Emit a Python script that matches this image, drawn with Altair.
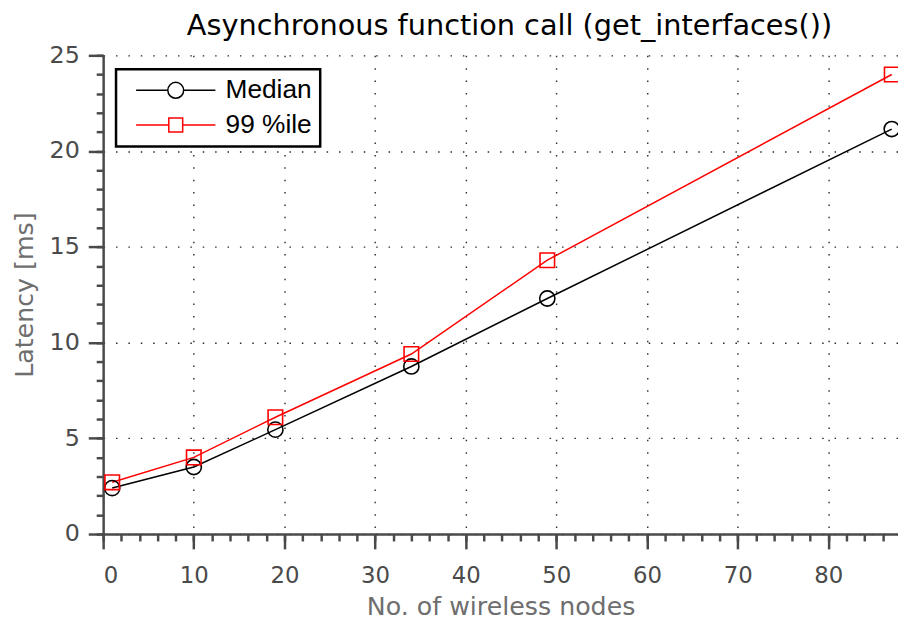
import altair as alt
import pandas as pd

# ---- data ----
nodes = [1, 10, 19, 34, 49, 87]
median = [2.4, 3.5, 5.45, 8.75, 12.3, 21.15]
p99 = [2.7, 4.0, 6.1, 9.4, 14.3, 24.0]
series = ["Median", "99 %ile"]
colors = ["#000000", "#ff0000"]
x_major = [0, 10, 20, 30, 40, 50, 60, 70, 80]
x_minor = list(range(0, 88, 2))
y_major = [0, 5, 10, 15, 20, 25]
y_minor = list(range(0, 26))

df = pd.DataFrame({
    "nodes": nodes + nodes,
    "latency": median + p99,
    "series": [series[0]] * len(nodes) + [series[1]] * len(nodes),
})

xscale = alt.Scale(domain=[0, 87.69], nice=False, zero=False)
yscale = alt.Scale(domain=[0, 25], nice=False)
cscale = alt.Scale(domain=series, range=colors)

AX = "#4a4a4a"
FONT = "DejaVu Sans"

x_major_axis = alt.Axis(
    orient="bottom", values=x_major, format="d",
    tickSize=15, tickWidth=2.5, tickColor=AX,
    domainColor=AX, domainWidth=2.5,
    labelFont=FONT, labelFontSize=23, labelColor=AX, labelPadding=16,
    title="No. of wireless nodes", titleFont=FONT, titleFontSize=25.5,
    titleFontWeight="normal", titleColor="#6e6e6e", titlePadding=7,
    grid=True, gridColor="#2a2a2a", gridDash=[1.5, 11], gridWidth=1.4,
)
y_major_axis = alt.Axis(
    orient="left", values=y_major, format="d",
    tickSize=15, tickWidth=2.5, tickColor=AX,
    domainColor=AX, domainWidth=2.5,
    labelFont=FONT, labelFontSize=24, labelColor=AX, labelPadding=9,
    title="Latency [ms]", titleFont=FONT, titleFontSize=25.5,
    titleFontWeight="normal", titleColor="#6e6e6e", titlePadding=12,
    grid=True, gridColor="#2a2a2a", gridDash=[1.5, 11], gridWidth=1.4,
)
x_minor_axis = alt.Axis(
    orient="bottom", values=x_minor, tickSize=7, tickWidth=2.5, tickColor=AX,
    labels=False, domain=False, grid=False, title=None,
)
y_minor_axis = alt.Axis(
    orient="left", values=y_minor, tickSize=7, tickWidth=2.5, tickColor=AX,
    labels=False, domain=False, grid=False, title=None,
)

base = alt.Chart(df)

line_med = base.transform_filter(alt.datum.series == series[0]).mark_line(
    strokeWidth=1.5, color=colors[0]
).encode(
    x=alt.X("nodes:Q", scale=xscale, axis=x_major_axis),
    y=alt.Y("latency:Q", scale=yscale, axis=y_major_axis),
)
line_p99 = base.transform_filter(alt.datum.series == series[1]).mark_line(
    strokeWidth=1.5, color=colors[1]
).encode(
    x=alt.X("nodes:Q", scale=xscale, axis=None),
    y=alt.Y("latency:Q", scale=yscale, axis=None),
)

circles = base.transform_filter(alt.datum.series == series[0]).mark_point(
    shape="circle", size=235, filled=False, strokeWidth=1.6, opacity=1, color=colors[0], clip=False
).encode(
    x=alt.X("nodes:Q", scale=xscale, axis=x_minor_axis),
    y=alt.Y("latency:Q", scale=yscale, axis=y_minor_axis),
)

squares = base.transform_filter(alt.datum.series == series[1]).mark_point(
    shape="square", size=215, filled=False, strokeWidth=1.6, opacity=1, color=colors[1], clip=False
).encode(
    x=alt.X("nodes:Q", scale=xscale, axis=None),
    y=alt.Y("latency:Q", scale=yscale, axis=None),
)

circle_path = "M-5,0H-1M1,0A1,1 0 1,1 -1,0A1,1 0 1,1 1,0H5"
square_path = "M-5,0H-0.875M-0.875,-0.875H0.875V0.875H-0.875ZM0.875,0H5"

legend_layer = base.transform_filter(alt.datum.nodes < 0).mark_point(
    filled=False, strokeWidth=1.5, opacity=1, size=256
).encode(
    color=alt.Color("series:N", scale=cscale, legend=alt.Legend(
        title=None, orient="none", legendX=13, legendY=14,
        symbolSize=256, symbolStrokeWidth=1.5, symbolOffset=39,
        labelFont="Liberation Sans", labelFontSize=26.5, labelColor="black",
        labelOffset=37, rowPadding=8, padding=8,
        strokeColor="black", fillColor="white",
    )),
    shape=alt.Shape("series:N", scale=alt.Scale(domain=series, range=[circle_path, square_path])),
)

chart = alt.layer(line_med, line_p99, circles, squares, legend_layer).resolve_axis(
    x="independent", y="independent"
).properties(
    width=802, height=483,
    title=alt.TitleParams(
        "Asynchronous function call (get_interfaces())",
        font=FONT, fontSize=29, fontWeight="normal", color="black",
        anchor="middle", baseline="alphabetic", offset=11, dy=31, dx=9,
    ),
    autosize=alt.AutoSizeParams(type="none"),
    padding={"left": 96, "top": 45, "right": 0, "bottom": 84},
).configure_view(stroke=None).configure_legend(strokeWidth=2.5)

chart.save("out.html", embed_options={"renderer": "svg", "actions": False})
